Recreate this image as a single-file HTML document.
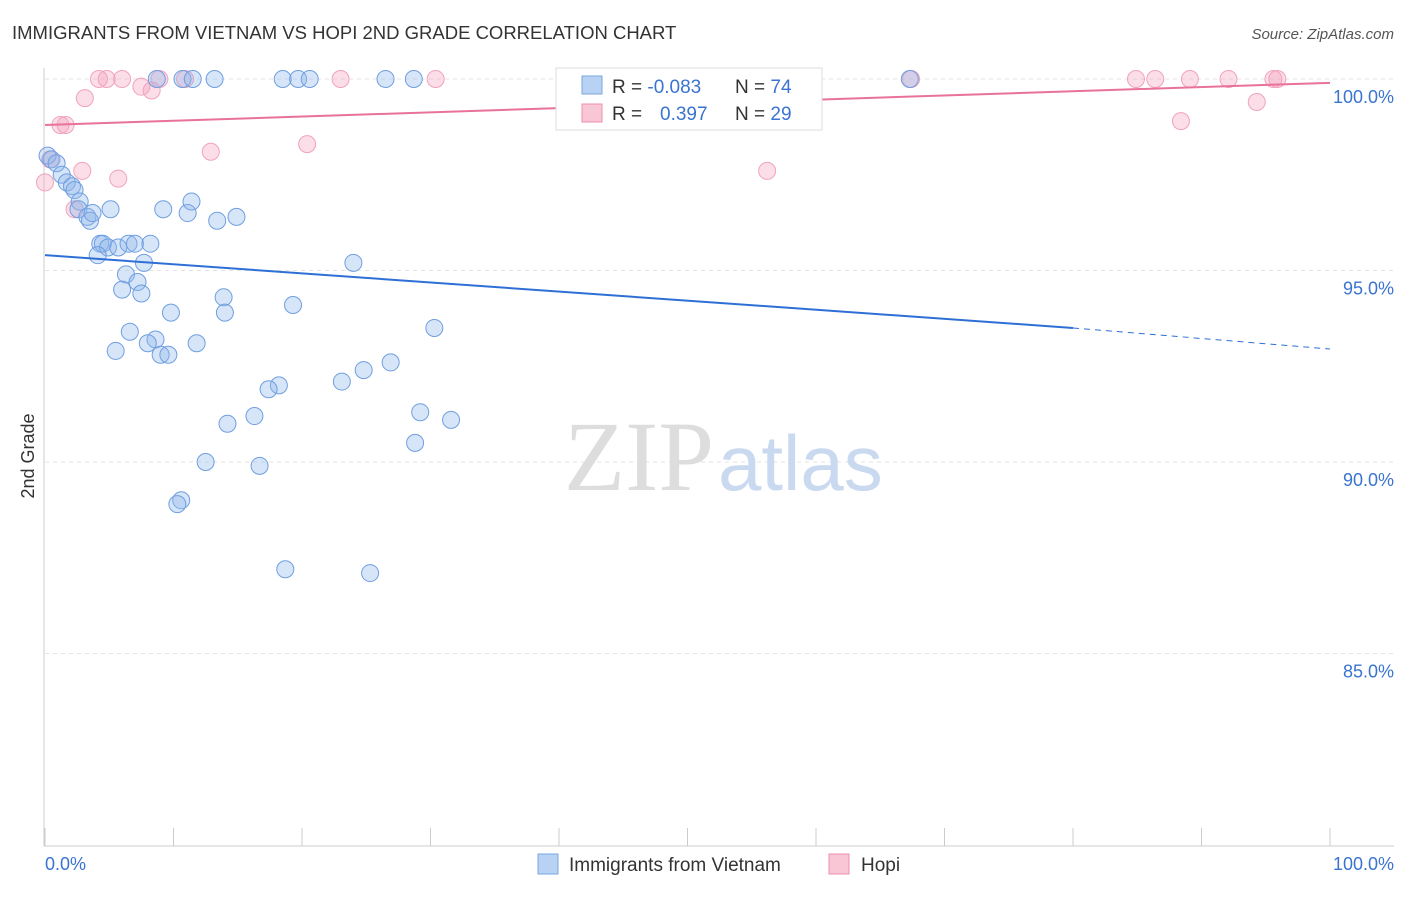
<!DOCTYPE html>
<html><head><meta charset="utf-8"><style>
body{margin:0;background:#fff;font-family:"Liberation Sans",sans-serif;}
svg text{font-family:"Liberation Sans",sans-serif;}
</style></head><body>
<svg id="chart" width="1406" height="892" viewBox="0 0 1406 892">
<text x="12" y="39" font-size="18.5" fill="#333">IMMIGRANTS FROM VIETNAM VS HOPI 2ND GRADE CORRELATION CHART</text>
<text x="1394" y="39" font-size="15" fill="#555" font-style="italic" text-anchor="end">Source: ZipAtlas.com</text>
<g id="grid"></g>
<g id="axes"></g>
<text x="714" y="490" font-size="100" fill="#ddd" text-anchor="end" style="font-family:'Liberation Serif',serif">ZIP</text>
<text x="718" y="490" font-size="78" fill="#c9d9f0">atlas</text>
<g id="points"></g>
<g id="lines"></g>
<text transform="translate(34,456) rotate(-90)" font-size="18" fill="#333" text-anchor="middle">2nd Grade</text>
<text x="45" y="870" font-size="18" fill="#3a74d0">0.0%</text>
<text x="1394" y="870" font-size="18" fill="#3a74d0" text-anchor="end">100.0%</text>
<g>
<rect x="556" y="68" width="266" height="62" fill="#fff" stroke="#ddd"/>
<rect x="582" y="76" width="20" height="18" fill="#b8d2f4" stroke="#7aa7e0"/>
<rect x="582" y="104" width="20" height="18" fill="#f9c6d6" stroke="#ee90ad"/>
<text x="612" y="93" font-size="19" fill="#333">R = <tspan fill="#3a74d0">-0.083</tspan></text>
<text x="735" y="93" font-size="19" fill="#333">N = <tspan fill="#3a74d0">74</tspan></text>
<text x="612" y="120" font-size="19" fill="#333">R = <tspan fill="#3a74d0" x="660">0.397</tspan></text>
<text x="735" y="120" font-size="19" fill="#333">N = <tspan fill="#3a74d0">29</tspan></text>
</g>
<g>
<rect x="538" y="854" width="20" height="20" fill="#b8d2f4" stroke="#7aa7e0"/>
<text x="569" y="871" font-size="19" fill="#333">Immigrants from Vietnam</text>
<rect x="829" y="854" width="20" height="20" fill="#f9c6d6" stroke="#ee90ad"/>
<text x="861" y="871" font-size="19" fill="#333">Hopi</text>
</g>
</svg>
<script>
const yTicks=[100,95,90,85];
const yTickLabels=["100.0%","95.0%","90.0%","85.0%"];
const blueX=[8.7,10.7,11.5,13.2,18.5,19.7,20.6,26.5,28.7,43,67.3,0.2,0.5,0.9,1.3,1.7,2.1,2.3,2.7,2.6,3.3,3.5,3.7,5.1,9.2,11.1,11.4,13.4,14.9,4.3,4.5,4.9,5.7,6.5,7,8.2,4.1,7.7,6.3,7.2,6,7.5,24.0,13.9,19.3,9.8,14,6.6,8.6,8,11.8,5.5,9,9.6,30.3,26.9,24.8,23.1,18.2,17.4,16.3,14.2,29.2,31.6,28.8,12.5,16.7,10.6,10.3,18.7,25.3];
const blueY=[100,100,100,100,100,100,100,100,100,100,100,98.0,97.9,97.8,97.5,97.3,97.2,97.1,96.8,96.6,96.4,96.3,96.5,96.6,96.6,96.5,96.8,96.3,96.4,95.7,95.7,95.6,95.6,95.7,95.7,95.7,95.4,95.2,94.9,94.7,94.5,94.4,95.2,94.3,94.1,93.9,93.9,93.4,93.2,93.1,93.1,92.9,92.8,92.8,93.5,92.6,92.4,92.1,92.0,91.9,91.2,91.0,91.3,91.1,90.5,90.0,89.9,89.0,88.9,87.2,87.1];
const pinkX=[4.2,4.8,6,8.9,10.9,23.0,30.4,67.4,84.9,86.4,89.1,92.1,95.6,95.9,7.5,8.3,3.1,94.3,1.2,1.6,12.9,20.4,88.4,56.2,2.9,5.7,0,2.3,0.4];
const pinkY=[100,100,100,100,100,100,100,100,100,100,100,100,100,100,99.8,99.7,99.5,99.4,98.8,98.8,98.1,98.3,98.9,97.6,97.6,97.4,97.3,96.6,97.9];
const blueLine=[95.4,93.5,92.95];
const pinkLine=[98.8,99.9];
const X=v=>45+v*12.85, Y=v=>79+(100-v)*38.3;
const NS="http://www.w3.org/2000/svg";
function mk(t,a,p){const e=document.createElementNS(NS,t);for(const k in a)e.setAttribute(k,a[k]);p.appendChild(e);return e;}
const grid=document.getElementById('grid'),axes=document.getElementById('axes');
yTicks.forEach((t,i)=>{
 const l=mk('line',{x1:45,x2:1394,y1:Y(t),y2:Y(t),stroke:'#e3e3e3','stroke-dasharray':'4,4'},grid);
 
 
 const tx=mk('text',{x:1394,y:Y(t)+24,'font-size':18,fill:'#3a74d0','text-anchor':'end'},axes);
 tx.textContent=yTickLabels[i];
 
 
});
mk('line',{x1:44,x2:44,y1:68,y2:846,stroke:'#ccc'},axes);
mk('line',{x1:44,x2:1394,y1:846,y2:846,stroke:'#ccc'},axes);
for(let i=0;i<=10;i++){const t=mk('line',{x1:X(i*10),x2:X(i*10),y1:828,y2:846,stroke:'#ccc'},axes);
 
 }
const pts=document.getElementById('points');
pinkX.forEach((x,i)=>{const c=mk('circle',{cx:X(x),cy:Y(pinkY[i]),r:8.5,fill:'rgba(244,160,188,0.35)',stroke:'#f1a3bc','stroke-width':1},pts);
 
 });
blueX.forEach((x,i)=>{const c=mk('circle',{cx:X(x),cy:Y(blueY[i]),r:8.5,fill:'rgba(140,180,235,0.35)',stroke:'#6f9fe0','stroke-width':1},pts);
 
 });
const ln=document.getElementById('lines');
const b1=mk('line',{x1:X(0),y1:Y(blueLine[0]),x2:X(80),y2:Y(blueLine[1]),stroke:'#2e6fd6','stroke-width':2},ln);


const b2=mk('line',{x1:X(80),y1:Y(blueLine[1]),x2:X(100),y2:Y(blueLine[2]),stroke:'#2e6fd6','stroke-width':1,'stroke-dasharray':'6,5'},ln);


const p1=mk('line',{x1:X(0),y1:Y(pinkLine[0]),x2:X(100),y2:Y(pinkLine[1]),stroke:'#e8729a','stroke-width':2},ln);


</script>
</body></html>
